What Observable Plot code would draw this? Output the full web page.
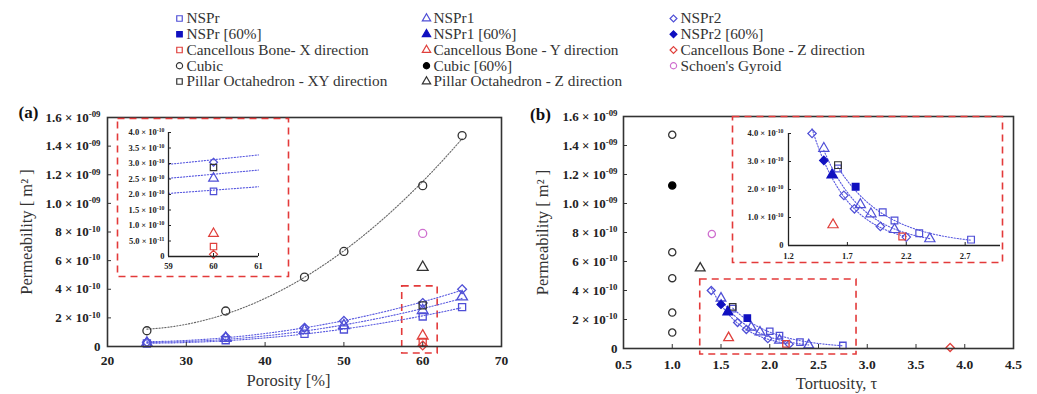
<!DOCTYPE html>
<html><head><meta charset="utf-8">
<script src="https://cdn.jsdelivr.net/npm/d3@7"></script>
<script src="https://cdn.jsdelivr.net/npm/@observablehq/plot@0.6"></script>
<style>
body{margin:0;background:#fff;}
#wrap{position:relative;width:1037px;height:394px;overflow:hidden;background:#fff;}
#wrap > div{position:absolute;}
</style></head><body><div id="wrap"></div>
<script>
// ---------- DATA (permeability in units of 1e-10 m²) ----------
const porosity = [25, 35, 45, 50, 60, 65];
const kNSPr   = [0.21, 0.44, 0.89, 1.19, 2.10, 2.75];
const kNSPr1  = [0.24, 0.57, 1.13, 1.46, 2.52, 3.47];
const kNSPr2  = [0.30, 0.68, 1.31, 1.79, 3.04, 4.00];
const kCubic  = [1.10, 2.48, 4.85, 6.64, 11.24, 14.74];
const tauNSPr  = [2.75, 2.31, 2.10, 2.00, 1.77, 1.62];
const tauNSPr1 = [2.40, 2.10, 1.90, 1.81, 1.57, 1.50];
const tauNSPr2 = [2.20, 1.98, 1.76, 1.67, 1.50, 1.40];
const tauCubic = [1.0, 1.0, 1.0, 1.0, 1.0, 1.0];
const otherNames = ["Pillar Octahedron - XY direction", "Pillar Octahedron - Z direction", "Schoen's Gyroid",
                    "Cancellous Bone- X direction", "Cancellous Bone - Y direction", "Cancellous Bone - Z direction"];
const otherPorosity = [60, 60, 60, 60, 60, 60];
const otherK   = [2.87, 5.54, 7.90, 0.32, 0.74, 0.07];
const otherTau = [1.62, 1.287, 1.406, 2.166, 1.578, 3.85];

const xTicksA = [20, 30, 40, 50, 60, 70];
const xTicksB = [0.5, 1.0, 1.5, 2.0, 2.5, 3.0, 3.5, 4.0, 4.5];
const yTicksMain = [0, 2, 4, 6, 8, 10, 12, 14, 16];
const yLabelsMain = ["0", "2 × 10⁻¹⁰", "4 × 10⁻¹⁰", "6 × 10⁻¹⁰", "8 × 10⁻¹⁰", "1.0 × 10⁻⁰⁹", "1.2 × 10⁻⁰⁹", "1.4 × 10⁻⁰⁹", "1.6 × 10⁻⁰⁹"];
const xTicksInsetA = [59, 60, 61];
const yTicksInsetA = [0, 0.5, 1, 1.5, 2, 2.5, 3, 3.5, 4];
const yLabelsInsetA = ["0", "5.0 × 10⁻¹¹", "1.0 × 10⁻¹⁰", "1.5 × 10⁻¹⁰", "2.0 × 10⁻¹⁰", "2.5 × 10⁻¹⁰", "3.0 × 10⁻¹⁰", "3.5 × 10⁻¹⁰", "4.0 × 10⁻¹⁰"];
const xTicksInsetB = [1.2, 1.7, 2.2, 2.7];
const yTicksInsetB = [0, 1, 2, 3, 4];
const yLabelsInsetB = ["0", "1.0 × 10⁻¹⁰", "2.0 × 10⁻¹⁰", "3.0 × 10⁻¹⁰", "4.0 × 10⁻¹⁰"];

const legendLabels = ["NSPr", "NSPr [60%]", "Cancellous Bone- X direction", "Cubic", "Pillar Octahedron - XY direction",
                      "NSPr1", "NSPr1 [60%]", "Cancellous Bone - Y direction", "Cubic [60%]", "Pillar Octahedron - Z direction",
                      "NSPr2", "NSPr2 [60%]", "Cancellous Bone - Z direction", "Schoen's Gyroid"];
const legendCol = [0,0,0,0,0, 1,1,1,1,1, 2,2,2,2];
const legendRow = [0,1,2,3,4, 0,1,2,3,4, 0,1,2,3];

// zoom boxes (annotations) in data units
const boxA = [{x1: 57.4, x2: 61.9, y1: -0.49, y2: 4.2}];
const boxB = [{x1: 1.287, x2: 2.89, y1: -0.41, y2: 4.76}];

// ---------- STYLES ----------
const blue = "#4f4fd6", blueDark = "#1010c0", red = "#e0403c", pink = "#cf6fcf", blk = "#333333";
const redBox = "#e33a3a";
const sty = {
  "NSPr": {symbol: "square", color: blue, filled: false},
  "NSPr [60%]": {symbol: "square", color: blueDark, filled: true},
  "Cancellous Bone- X direction": {symbol: "square", color: red, filled: false},
  "Cubic": {symbol: "circle", color: blk, filled: false},
  "Pillar Octahedron - XY direction": {symbol: "square", color: blk, filled: false},
  "NSPr1": {symbol: "triangle", color: blue, filled: false},
  "NSPr1 [60%]": {symbol: "triangle", color: blueDark, filled: true},
  "Cancellous Bone - Y direction": {symbol: "triangle", color: red, filled: false},
  "Cubic [60%]": {symbol: "circle", color: "#000", filled: true},
  "Pillar Octahedron - Z direction": {symbol: "triangle", color: blk, filled: false},
  "NSPr2": {symbol: "diamond2", color: blue, filled: false},
  "NSPr2 [60%]": {symbol: "diamond2", color: blueDark, filled: true},
  "Cancellous Bone - Z direction": {symbol: "diamond2", color: red, filled: false},
  "Schoen's Gyroid": {symbol: "circle", color: pink, filled: false}
};
const fitColor = {"NSPr": "#5a5ae0", "NSPr1": "#5a5ae0", "NSPr2": "#5a5ae0", "Cubic": "#666"};

// ---------- ROWS ----------
const series = [["NSPr", kNSPr, tauNSPr], ["NSPr1", kNSPr1, tauNSPr1], ["NSPr2", kNSPr2, tauNSPr2], ["Cubic", kCubic, tauCubic]];
const rowsA = [], rowsB = [];
for (const [name, ks, taus] of series) {
  porosity.forEach((p, i) => {
    rowsA.push({x: p, y: ks[i], s: name});
    rowsB.push({x: taus[i], y: ks[i], s: p === 60 ? name + " [60%]" : name});
  });
}
otherNames.forEach((n, i) => {
  rowsA.push({x: otherPorosity[i], y: otherK[i], s: n});
  rowsB.push({x: otherTau[i], y: otherK[i], s: n});
});

// ---------- FITS (derived from data) ----------
function polyFit2(xs, ys) {
  const S = [[0,0,0],[0,0,0],[0,0,0]], T = [0,0,0];
  xs.forEach((x, i) => { for (let r = 0; r < 3; r++) { T[r] += ys[i] * x ** r; for (let c = 0; c < 3; c++) S[r][c] += x ** (r + c); } });
  for (let i = 0; i < 3; i++) {
    for (let j = i + 1; j < 3; j++) { const f = S[j][i] / S[i][i]; for (let k = i; k < 3; k++) S[j][k] -= f * S[i][k]; T[j] -= f * T[i]; }
  }
  const c = [0,0,0];
  for (let i = 2; i >= 0; i--) { let s = T[i]; for (let k = i + 1; k < 3; k++) s -= S[i][k] * c[k]; c[i] = s / S[i][i]; }
  return x => c[0] + c[1] * x + c[2] * x * x;
}
function expFit(xs, ys) {
  const ly = ys.map(Math.log), mx = d3.mean(xs), my = d3.mean(ly);
  const b = d3.sum(xs, (x, i) => (x - mx) * (ly[i] - my)) / d3.sum(xs, x => (x - mx) ** 2);
  const a = my - b * mx;
  return x => Math.exp(a + b * x);
}
function sample(f, x0, x1, n, s) { return d3.range(n + 1).map(i => { const x = x0 + (x1 - x0) * i / n; return {x, y: f(x), s}; }); }
const fitsA = {}, fitsB = {};
for (const [name, ks, taus] of series) {
  fitsA[name] = polyFit2(porosity, ks);
  if (name !== "Cubic") fitsB[name] = expFit(taus, ks);
}
const fitRowsA = series.flatMap(([n]) => sample(fitsA[n], 25, 65, 80, n));
const fitRowsInsetA = ["NSPr", "NSPr1", "NSPr2"].flatMap(n => sample(fitsA[n], 59, 61, 20, n));
const fitRowsB = series.filter(([n]) => n !== "Cubic").flatMap(([n, ks, taus]) => sample(fitsB[n], d3.min(taus), d3.max(taus), 60, n));

// ---------- HELPERS ----------
const wrap = document.getElementById("wrap");
const supMap = {"⁻": "-", "⁰": "0", "¹": "1", "²": "2", "³": "3", "⁴": "4", "⁵": "5", "⁶": "6", "⁷": "7", "⁸": "8", "⁹": "9"};
function supers(svg) {
  svg.querySelectorAll("text, tspan").forEach(el => {
    if (el.childNodes.length !== 1 || el.firstChild.nodeType !== 3) return;
    const m = el.textContent.match(/^(.*?)([⁻⁰¹²³⁴⁵⁶⁷⁸⁹]+)$/);
    if (!m) return;
    el.textContent = m[1];
    const ts = document.createElementNS("http://www.w3.org/2000/svg", "tspan");
    ts.setAttribute("dy", "-0.5em");
    ts.setAttribute("font-size", "68%");
    ts.textContent = [...m[2]].map(c => supMap[c]).join("");
    el.appendChild(ts);
  });
}
function place(svg, left, top) { supers(svg); const d = document.createElement("div"); d.style.left = left + "px"; d.style.top = top + "px"; d.appendChild(svg); wrap.appendChild(d); }
const baseStyle = {fontFamily: '"Liberation Serif", "Times New Roman", serif', background: "transparent", color: "#222", maxWidth: "none", overflow: "visible"};
function dotMarks(rows, r, sw) {
  return [
    Plot.dot(rows.filter(d => !sty[d.s].filled), {x: "x", y: "y", r, symbol: d => sty[d.s].symbol, stroke: d => sty[d.s].color, fill: "none", strokeWidth: sw}),
    Plot.dot(rows.filter(d => sty[d.s].filled), {x: "x", y: "y", r, symbol: d => sty[d.s].symbol, stroke: d => sty[d.s].color, fill: d => sty[d.s].color, strokeWidth: sw})
  ];
}
function fitLine(rows) { return Plot.line(rows, {x: "x", y: "y", z: "s", stroke: d => fitColor[d.s], strokeDasharray: "1.3,1.7", strokeWidth: 1.1}); }
function lab(ticks, labels) { return d => labels[ticks.indexOf(d)]; }

// ---------- LEGEND ----------
const legendRows = legendLabels.map((l, i) => ({x: legendCol[i], y: legendRow[i], s: l}));
place(Plot.plot({
  width: 1037, height: 95, margin: 0, style: baseStyle,
  x: {domain: [0, 2], range: [179, 673], axis: null},
  y: {domain: [0, 4], range: [18, 81], axis: null},
  marks: [
    ...dotMarks(legendRows, 3.1, 1.2),
    Plot.text(legendRows, {x: "x", y: "y", text: "s", dx: 7, textAnchor: "start", fontSize: 15.3, fill: "#333"})
  ]
}), 0, 0);

// ---------- PANEL (a) ----------
const aW = 520, aH = 299, aML = 107, aMR = 19, aMT = 22, aMB = 48;
const aPW = aW - aML - aMR, aPH = aH - aMT - aMB;
place(Plot.plot({
  width: aW, height: aH, marginLeft: aML, marginRight: aMR, marginTop: aMT, marginBottom: aMB, style: baseStyle,
  x: {domain: [20, 70]}, y: {domain: [0, 16]},
  marks: [
    Plot.rect(boxA, {x1: "x1", x2: "x2", y1: "y1", y2: "y2", fill: "none", stroke: redBox, strokeWidth: 1.6, strokeDasharray: "7,5"}),
    fitLine(fitRowsA),
    ...dotMarks(rowsA, 4, 1.3),
    Plot.frame({stroke: "#333", strokeWidth: 1.6}),
    Plot.tickX(xTicksA, {x: d => d, insetTop: aPH - 4, stroke: "#333"}),
    Plot.tickY(yTicksMain, {y: d => d, insetRight: aPW - 4, stroke: "#333"}),
    Plot.axisX({ticks: xTicksA, tickSize: 0, tickPadding: 9, label: null, tickFormat: d => String(d), fontSize: 13.5, fontWeight: "bold", fill: "#222"}),
    Plot.axisY({ticks: yTicksMain, tickSize: 0, tickPadding: 7, label: null, tickFormat: lab(yTicksMain, yLabelsMain), fontSize: 13, fontWeight: "bold", fill: "#222"}),
    Plot.text(["(a)"], {frameAnchor: "top-left", dx: -79, dy: -5, text: d => d, textAnchor: "middle", lineAnchor: "middle", fontSize: 17, fontWeight: "bold", fill: "#111"}),
    Plot.text(["Permeability [ m² ]"], {frameAnchor: "left", dx: -81, rotate: -90, text: d => d, textAnchor: "middle", lineAnchor: "middle", fontSize: 16.5, fill: "#333"}),
    Plot.text(["Porosity [%]"], {frameAnchor: "bottom", dx: -16, dy: 34, text: d => d, textAnchor: "middle", lineAnchor: "middle", fontSize: 16.5, fill: "#333"})
  ]
}), 0, 95);

// inset (a)
const iaW = 173, iaH = 160, iaML = 52, iaMR = 31, iaMT = 15, iaMB = 21;
const iaPW = iaW - iaML - iaMR, iaPH = iaH - iaMT - iaMB;
place(Plot.plot({
  width: iaW, height: iaH, marginLeft: iaML, marginRight: iaMR, marginTop: iaMT, marginBottom: iaMB, style: baseStyle,
  x: {domain: [59, 61]}, y: {domain: [0, 4]},
  marks: [
    Plot.frame({stroke: redBox, strokeWidth: 1.6, strokeDasharray: "7,5", insetLeft: -(iaML - 1), insetRight: -(iaMR - 1), insetTop: -(iaMT - 1), insetBottom: -(iaMB - 1)}),
    fitLine(fitRowsInsetA),
    ...dotMarks(rowsA.filter(d => d.x === 60 && d.y <= 4), 3.6, 1.2),
    Plot.ruleX([59], {stroke: "#222", strokeWidth: 1.3}),
    Plot.ruleY([0], {stroke: "#222", strokeWidth: 1.3}),
    Plot.tickX(xTicksInsetA, {x: d => d, insetTop: iaPH - 3, stroke: "#222"}),
    Plot.tickY(yTicksInsetA, {y: d => d, insetRight: iaPW - 3, stroke: "#222"}),
    Plot.axisX({ticks: xTicksInsetA, tickSize: 0, tickPadding: 6, label: null, tickFormat: d => String(d), fontSize: 8.5, fontWeight: "bold", fill: "#222"}),
    Plot.axisY({ticks: yTicksInsetA, tickSize: 0, tickPadding: 4, label: null, tickFormat: lab(yTicksInsetA, yLabelsInsetA), fontSize: 8.5, fontWeight: "bold", fill: "#222"})
  ]
}), 116, 117);

// ---------- PANEL (b) ----------
const bW = 517, bH = 299, bML = 103, bMR = 24, bMT = 21, bMB = 46;
const bPW = bW - bML - bMR, bPH = bH - bMT - bMB;
place(Plot.plot({
  width: bW, height: bH, marginLeft: bML, marginRight: bMR, marginTop: bMT, marginBottom: bMB, style: baseStyle,
  x: {domain: [0.5, 4.5]}, y: {domain: [0, 16]},
  marks: [
    Plot.rect(boxB, {x1: "x1", x2: "x2", y1: "y1", y2: "y2", fill: "none", stroke: redBox, strokeWidth: 1.6, strokeDasharray: "7,5"}),
    fitLine(fitRowsB),
    ...dotMarks(rowsB, 3.6, 1.3),
    Plot.frame({stroke: "#333", strokeWidth: 1.6}),
    Plot.tickX(xTicksB, {x: d => d, insetTop: bPH - 4, stroke: "#333"}),
    Plot.tickY(yTicksMain, {y: d => d, insetRight: bPW - 4, stroke: "#333"}),
    Plot.axisX({ticks: xTicksB, tickSize: 0, tickPadding: 11, label: null, tickFormat: d3.format(".1f"), fontSize: 13.5, fontWeight: "bold", fill: "#222"}),
    Plot.axisY({ticks: yTicksMain, tickSize: 0, tickPadding: 6, label: null, tickFormat: lab(yTicksMain, yLabelsMain), fontSize: 13, fontWeight: "bold", fill: "#222"}),
    Plot.text(["(b)"], {frameAnchor: "top-left", dx: -83, dy: -2, text: d => d, textAnchor: "middle", lineAnchor: "middle", fontSize: 17, fontWeight: "bold", fill: "#111"}),
    Plot.text(["Permeability [ m² ]"], {frameAnchor: "left", dx: -81, rotate: -90, text: d => d, textAnchor: "middle", lineAnchor: "middle", fontSize: 16.5, fill: "#333"}),
    Plot.text(["Tortuosity, τ"], {frameAnchor: "bottom", dx: 18, dy: 35, text: d => d, textAnchor: "middle", lineAnchor: "middle", fontSize: 16.5, fill: "#333"})
  ]
}), 520, 95);

// inset (b)
const ibW = 272, ibH = 148, ibML = 57, ibMR = 3, ibMT = 18, ibMB = 18;
const ibPW = ibW - ibML - ibMR, ibPH = ibH - ibMT - ibMB;
place(Plot.plot({
  width: ibW, height: ibH, marginLeft: ibML, marginRight: ibMR, marginTop: ibMT, marginBottom: ibMB, style: baseStyle,
  x: {domain: [1.2, 3.0]}, y: {domain: [0, 4]},
  marks: [
    Plot.frame({stroke: redBox, strokeWidth: 1.6, strokeDasharray: "7,5", insetLeft: -(ibML - 1), insetRight: -(ibMR - 1), insetTop: -(ibMT - 1), insetBottom: -(ibMB - 1)}),
    fitLine(fitRowsB),
    ...dotMarks(rowsB.filter(d => d.x >= 1.2 && d.x <= 3.0 && d.y <= 4.05), 3.8, 1.2),
    Plot.ruleX([1.2], {stroke: "#222", strokeWidth: 1.3}),
    Plot.ruleY([0], {stroke: "#222", strokeWidth: 1.3}),
    Plot.tickX(xTicksInsetB, {x: d => d, insetTop: ibPH - 3, stroke: "#222"}),
    Plot.tickY(yTicksInsetB, {y: d => d, insetRight: ibPW - 3, stroke: "#222"}),
    Plot.axisX({ticks: xTicksInsetB, tickSize: 0, tickPadding: 7, label: null, tickFormat: d3.format(".1f"), fontSize: 8.5, fontWeight: "bold", fill: "#222"}),
    Plot.axisY({ticks: yTicksInsetB, tickSize: 0, tickPadding: 5, label: null, tickFormat: lab(yTicksInsetB, yLabelsInsetB), fontSize: 8.5, fontWeight: "bold", fill: "#222"})
  ]
}), 731, 115);
</script></body></html>
